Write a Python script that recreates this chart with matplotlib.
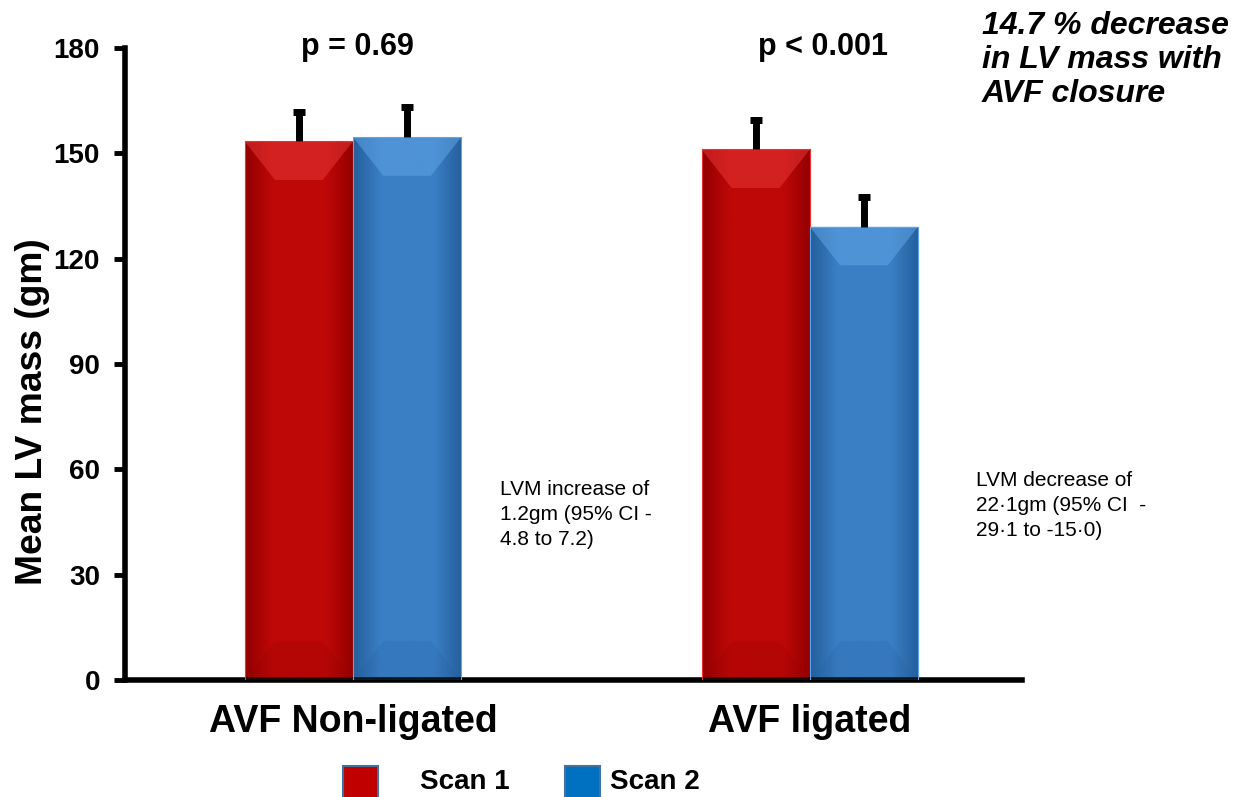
import matplotlib
matplotlib.use("Agg")
import matplotlib.pyplot as plt
import numpy as np
from matplotlib.patches import Polygon, Rectangle
from matplotlib.colors import LinearSegmentedColormap

plt.rcParams['font.family'] = ['Liberation Sans', 'DejaVu Sans']

categories = ["AVF Non-ligated", "AVF ligated"]
series_names = ["Scan 1", "Scan 2"]
scan1 = [153.4, 151.1]
scan2 = [154.6, 129.1]
err1 = [8.3, 8.5]
err2 = [8.5, 8.5]
p_values = ["p = 0.69", "p < 0.001"]
notes = ["LVM increase of\n1.2gm (95% CI -\n4.8 to 7.2)",
         "LVM decrease of\n22\u00b71gm (95% CI  -\n29\u00b71 to -15\u00b70)"]
headline = "14.7 % decrease\nin LV mass with\nAVF closure"
yticks = [0, 30, 60, 90, 120, 150, 180]

W, H = 1243, 797
fig = plt.figure(figsize=(W / 100, H / 100), dpi=100)
ax = fig.add_axes([0.1006, 0.1468, 0.7214, 0.793])

x = np.arange(len(categories))
w = 0.237

styles = [
    dict(mid="#BE0808", light="#E63535", dark="#920000", legend="#C00000"),
    dict(mid="#3A7FC4", light="#5FA4E4", dark="#255F9C", legend="#0070C0"),
]

def fancy_bar(ax, xc, h, st):
    x0, x1 = xc - w / 2, xc + w / 2
    cmap = LinearSegmentedColormap.from_list(
        "g", [st["dark"], st["mid"], st["mid"], st["mid"], st["dark"]])
    grad = np.linspace(0, 1, 200).reshape(1, -1)
    im = ax.imshow(grad, extent=[x0, x1, 0, h], aspect="auto", cmap=cmap,
                   zorder=2, origin="lower")
    rect = Rectangle((x0, 0), w, h, transform=ax.transData, facecolor="none",
                     edgecolor="none")
    ax.add_patch(rect)
    im.set_clip_path(rect)
    dy = 11.0
    dx = w * 0.28
    top = Polygon([[x0, h], [x1, h], [x1 - dx, h - dy], [x0 + dx, h - dy]],
                  closed=True, facecolor=st["light"], edgecolor="none", alpha=0.55, zorder=3)
    ax.add_patch(top)
    bot = Polygon([[x0, 0], [x1, 0], [x1 - dx, dy], [x0 + dx, dy]],
                  closed=True, facecolor=st["dark"], edgecolor="none", alpha=0.2, zorder=3)
    ax.add_patch(bot)
    ax.add_patch(Rectangle((x0, 0), w, h, facecolor="none", edgecolor=st["light"],
                           linewidth=0.8, zorder=4))

for i in range(len(categories)):
    fancy_bar(ax, x[i] - w / 2, scan1[i], styles[0])
    fancy_bar(ax, x[i] + w / 2, scan2[i], styles[1])

for xs, vals, errs in [(x - w / 2, scan1, err1), (x + w / 2, scan2, err2)]:
    _, caps, _ = ax.errorbar(xs, vals, yerr=[np.zeros(len(x)), errs], fmt="none",
                             ecolor="black", elinewidth=5, capsize=4.5, capthick=5,
                             zorder=5)
    caps[0].set_visible(False)

ax.set_xlim(-0.499, 1.464)
ax.set_ylim(0, 180)
ax.set_yticks(yticks)
ax.set_yticklabels([str(t) for t in yticks], fontsize=20, fontweight="bold")
ax.set_xticks(x)
ax.set_xticklabels(categories, fontsize=27, fontweight="bold")
ax.tick_params(axis="x", length=0, pad=17)
ax.tick_params(axis="y", length=8, width=3.5, direction="out", pad=10)
for s in ["top", "right"]:
    ax.spines[s].set_visible(False)
for s in ["left", "bottom"]:
    ax.spines[s].set_linewidth(4)
ax.set_ylabel("Mean LV mass (gm)", fontsize=26.8, fontweight="bold")
ax.yaxis.set_label_coords(-0.084, 0.425)

for i in range(len(categories)):
    ax.text(x[i] + (0.01 if i == 0 else 0.03), 180.3, p_values[i], ha="center",
            va="center", fontsize=22, fontweight="bold")

ax.text(0.3225, 57, notes[0], fontsize=15, va="top", ha="left", linespacing=1.41)
ax.text(1.363, 59.5, notes[1], fontsize=15, va="top", ha="left", linespacing=1.41,
        clip_on=False)

fig.text(982 / W, 1 - 11 / H, headline, fontsize=23, fontweight="bold",
         style="italic", va="top", ha="left", linespacing=1.18)

# legend drawn manually
leg_boxes = [(343, 766), (565, 766)]
leg_text_x = [420, 610]
for k in range(2):
    bx, by = leg_boxes[k]
    fig.add_artist(Rectangle((bx / W, 1 - (by + 34) / H), 35 / W, 34 / H,
                             transform=fig.transFigure, facecolor=styles[k]["legend"],
                             edgecolor="#41719C", linewidth=1.5))
    fig.text(leg_text_x[k] / W, 1 - 782 / H, series_names[k], fontsize=20,
             fontweight="bold", va="center", ha="left")

fig.savefig("out.png", dpi=100)
